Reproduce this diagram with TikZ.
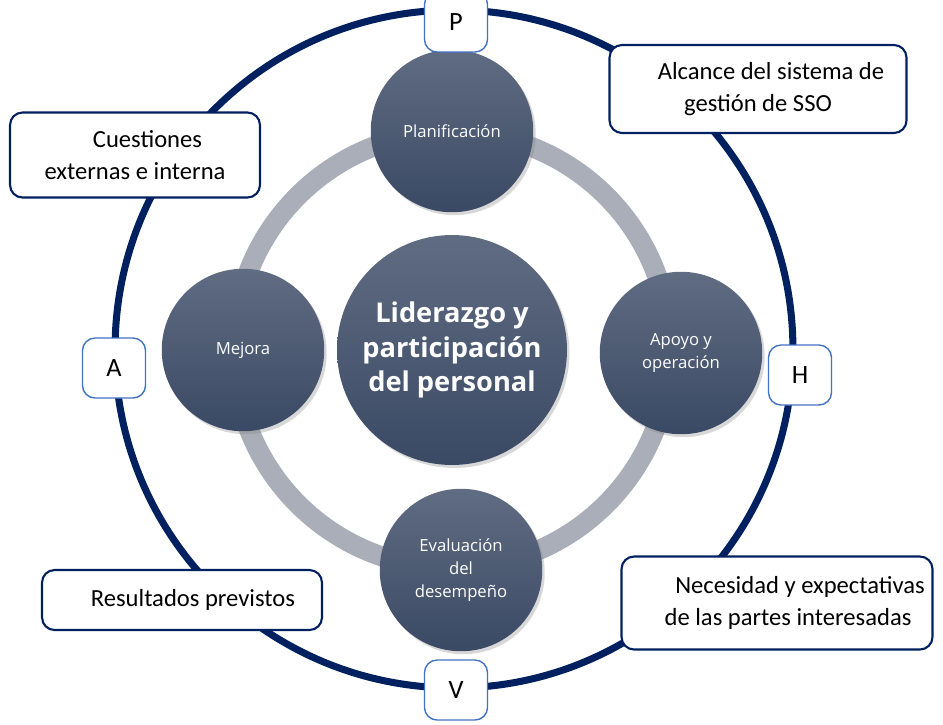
\documentclass[tikz,border=0pt]{standalone}
\usepackage{fontspec}
\setmainfont{Carlito}
\newfontfamily\circfont{Open Sans}
\usetikzlibrary{shadows}
\definecolor{navy}{RGB}{0,32,96}
\definecolor{ringgray}{RGB}{170,174,184}
\definecolor{lblue}{RGB}{68,114,196}
\definecolor{ctop}{RGB}{96,108,130}
\definecolor{cbot}{RGB}{58,73,100}
\tikzset{
  stage/.style={circle, top color=ctop, bottom color=cbot, text=white, align=center,
    font=\circfont\fontsize{9.5}{13}\selectfont, minimum size=3.25cm, inner sep=1pt,
    drop shadow={opacity=0.3, shadow xshift=0.5mm, shadow yshift=-0.6mm}},
  letterbox/.style={draw=lblue, line width=0.8pt, fill=white, rounded corners=0.25cm,
    minimum width=1.26cm, minimum height=1.2cm, font=\fontsize{15}{18}\selectfont},
  notebox/.style={draw=navy, line width=1.2pt, fill=white, rounded corners=0.25cm,
    align=center, font=\fontsize{14}{18}\selectfont}
}
\begin{document}
\begin{tikzpicture}[x=0.02cm, y=-0.02cm]
  \useasboundingbox[fill=white] (0,0) rectangle (943,724);
  % outer cycle and inner ring
  \draw[navy, line width=4pt] (454,349) circle[radius=6.78cm];
  \draw[ringgray, line width=0.4cm] (452,350) circle[radius=4.36cm];

  \node[stage, minimum size=4.6cm, font=\circfont\bfseries\fontsize{15.5}{19.5}\selectfont]
    (lider) at (452,350) {Liderazgo y\\participación\\del personal};
  \node[stage] (plan) at (452,131) {Planificación};
  \node[stage] (apoyo) at (681,353) {Apoyo y\\operación};
  \node[stage] (eval) at (461,570) {Evaluación\\del\\desempeño};
  \node[stage] (mejora) at (243,350) {Mejora};

  % PHVA
  \node[letterbox] (P) at (456,22) {P};
  \node[letterbox] (H) at (800,375) {H};
  \node[letterbox] (V) at (456,690) {V};
  \node[letterbox] (A) at (114,368) {A};

  \node[notebox, minimum width=5cm, minimum height=1.7cm] (cuest) at (135,155)
    {\hspace*{0.5cm}Cuestiones\\externas e interna};
  \node[notebox, minimum width=5.94cm, minimum height=1.76cm] (alcance) at (758,89)
    {\hspace*{0.52cm}Alcance del sistema de\\gestión de SSO};
  \node[notebox, minimum width=5.6cm, minimum height=1.2cm] (result) at (182,600)
    {\hspace*{0.44cm}Resultados previstos};
  \node[notebox, minimum width=6.22cm, minimum height=1.86cm] (necesidad) at (777,603)
    {\hspace*{0.92cm}Necesidad y expectativas\\\hspace*{0.44cm}de las partes interesadas};
\end{tikzpicture}
\end{document}
